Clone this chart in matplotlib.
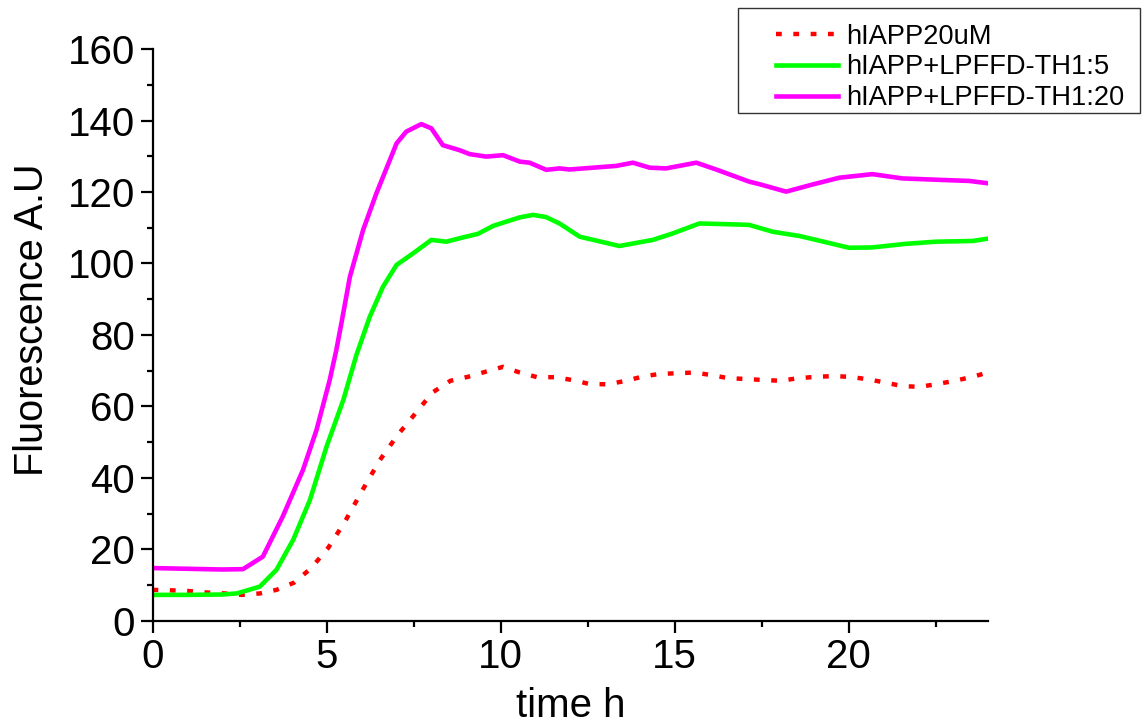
import matplotlib
matplotlib.use("Agg")
import matplotlib.pyplot as plt
from matplotlib.ticker import MultipleLocator
from matplotlib.patches import Rectangle

plt.rcParams['font.family'] = ['Liberation Sans', 'DejaVu Sans']

# hIAPP 20uM (dotted red)
t_red = [0, 0.44, 1.0, 1.5, 2.08, 2.56, 3.08, 3.56, 4.06, 4.55, 5.05, 5.54, 6.03, 6.53,
         7.04, 7.53, 8.04, 8.56, 9.06, 9.56, 10.07, 10.55, 11.05, 11.57, 12.06, 12.55,
         13.06, 13.56, 14.05, 14.55, 15.06, 15.56, 16.05, 16.55, 17.05, 17.55, 18.04,
         18.54, 19.05, 19.55, 20.04, 20.55, 21.05, 21.54, 22.04, 22.55, 23.05, 23.55, 24.0]
f_red = [8.7, 8.6, 8.4, 8.0, 7.7, 7.3, 7.7, 8.7, 10.7, 14.7, 20.5, 28.0, 36.6, 45.0,
         52.0, 57.8, 63.9, 67.2, 68.3, 69.7, 71.1, 69.5, 68.2, 68.2, 67.4, 66.3,
         66.2, 67.1, 68.3, 69.1, 69.3, 69.5, 68.8, 67.9, 67.7, 67.4, 67.2,
         67.9, 68.3, 68.5, 68.3, 67.6, 66.7, 65.7, 65.5, 66.3, 67.2, 68.3, 69.5]

# hIAPP + LPFFD-TH 1:5 (green)
t_green = [0, 1.0, 2.0, 2.42, 3.08, 3.56, 4.04, 4.52, 5.0, 5.48, 5.86, 6.24, 6.62, 7.01,
           7.48, 8.01, 8.44, 8.92, 9.35, 9.78, 10.16, 10.55, 10.93, 11.3, 11.69, 12.27,
           13.41, 14.37, 14.94, 15.71, 16.48, 17.14, 17.81, 18.58, 19.15, 20.01, 20.68,
           21.64, 22.5, 23.55, 24.03]
f_green = [7.3, 7.3, 7.4, 7.7, 9.6, 14.3, 22.7, 33.8, 48.8, 61.8, 74.5, 85.1, 93.5, 99.6,
           102.8, 106.6, 106.1, 107.3, 108.3, 110.5, 111.7, 112.9, 113.6, 113.0, 111.2, 107.5,
           104.9, 106.6, 108.4, 111.2, 111.0, 110.8, 108.9, 107.7, 106.4, 104.4, 104.5,
           105.5, 106.1, 106.3, 107.0]

# hIAPP + LPFFD-TH 1:20 (magenta)
t_mag = [0, 1.0, 2.0, 2.6, 3.17, 3.74, 4.32, 4.71, 5.09, 5.28, 5.43, 5.67, 6.05, 6.43, 7.01,
         7.29, 7.72, 8.01, 8.34, 8.82, 9.11, 9.59, 10.07, 10.55, 10.83, 11.31, 11.69,
         11.98, 13.32, 13.8, 14.28, 14.75, 15.62, 16.19, 17.14, 17.43, 18.2, 18.96,
         19.73, 20.68, 21.54, 22.6, 23.46, 24.03]
f_mag = [14.8, 14.6, 14.4, 14.5, 18.0, 29.2, 42.2, 53.4, 67.4, 75.8, 83.5, 96.3, 109.4, 119.6, 133.6,
         136.9, 139.0, 137.8, 133.1, 131.7, 130.6, 129.9, 130.3, 128.5, 128.2, 126.2, 126.6,
         126.3, 127.3, 128.2, 126.8, 126.6, 128.2, 126.3, 122.9, 122.2, 120.1, 122.1,
         124.0, 125.0, 123.8, 123.4, 123.1, 122.4]

fig = plt.figure(figsize=(11.45, 7.24), dpi=100)
ax = fig.add_axes([0.1332, 0.1423, 0.7297, 0.79])

ax.plot(t_red, f_red, color='#ff0000', lw=3.2, linestyle=(0, (1.3, 2.6)),
        dash_capstyle='butt', label='hIAPP20uM')
ax.plot(t_green, f_green, color='#00ff00', lw=3.3, label='hIAPP+LPFFD-TH1:5')
ax.plot(t_mag, f_mag, color='#ff00ff', lw=3.3, label='hIAPP+LPFFD-TH1:20')

ax.set_xlim(0, 24)
ax.set_ylim(0, 160)
ax.xaxis.set_major_locator(MultipleLocator(5))
ax.xaxis.set_minor_locator(MultipleLocator(2.5))
ax.yaxis.set_major_locator(MultipleLocator(20))
ax.yaxis.set_minor_locator(MultipleLocator(10))

for s in ['top', 'right']:
    ax.spines[s].set_visible(False)
for s in ['left', 'bottom']:
    ax.spines[s].set_linewidth(1.6)

ax.tick_params(which='major', direction='out', length=8.5, width=1.6, labelsize=29, pad=4)
ax.tick_params(which='minor', direction='out', length=4.3, width=1.6)

ax.set_xlabel('time h', fontsize=29, labelpad=8)
ax.set_ylabel('Fluorescence A.U', fontsize=28.5)
ax.yaxis.set_label_coords(-0.1215, 0.526)

leg = fig.legend(loc='upper left', bbox_to_anchor=(776 / 1145, 1 - 23.5 / 724), fontsize=19.6,
                 frameon=False, handlelength=2.26, handletextpad=0.3,
                 labelspacing=0.18, borderpad=0, borderaxespad=0)
fig.add_artist(Rectangle((738 / 1145, 1 - 113 / 724), 402 / 1145, 105 / 724,
                         transform=fig.transFigure, fill=False,
                         edgecolor='#333333', linewidth=1.0))

fig.savefig('out.png', dpi=100)
